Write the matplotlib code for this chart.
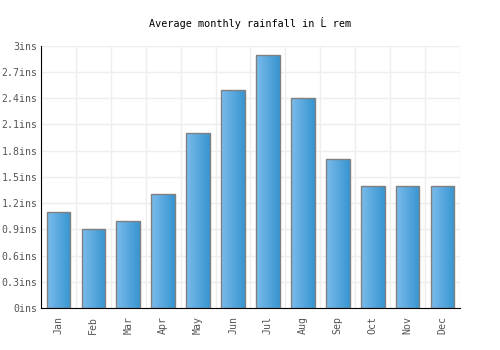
import numpy as np
import matplotlib.pyplot as plt
from matplotlib.colors import LinearSegmentedColormap

months = ['Jan', 'Feb', 'Mar', 'Apr', 'May', 'Jun', 'Jul', 'Aug', 'Sep', 'Oct', 'Nov', 'Dec']
rainfall = [1.1, 0.9, 1.0, 1.3, 2.0, 2.5, 2.9, 2.4, 1.7, 1.4, 1.4, 1.4]
yticks = [0, 0.3, 0.6, 0.9, 1.2, 1.5, 1.8, 2.1, 2.4, 2.7, 3.0]
ytick_labels = ['0ins', '0.3ins', '0.6ins', '0.9ins', '1.2ins', '1.5ins', '1.8ins',
                '2.1ins', '2.4ins', '2.7ins', '3ins']

plt.rcParams['font.family'] = ['DejaVu Sans Mono']

fig = plt.figure(figsize=(5, 3.5), dpi=100)
ax = fig.add_axes([0.082, 0.12, 0.838, 0.749])

x = np.arange(len(months))
bars = ax.bar(x, rainfall, width=0.68, facecolor='none', edgecolor='#808080',
              linewidth=1.0, zorder=3)

# gradient fill for each bar
cmap = LinearSegmentedColormap.from_list('blu', ['#7bbbec', '#3795d0'])
grad = np.linspace(0, 1, 64).reshape(1, -1)
for b in bars:
    im = ax.imshow(grad, cmap=cmap, aspect='auto', zorder=2,
                   extent=[b.get_x(), b.get_x() + b.get_width(), 0, b.get_height()])
    im.set_clip_path(b)

ax.set_xlim(-0.5, len(months) - 0.5)
ax.set_ylim(0, 3)
ax.set_yticks(yticks)
ax.set_yticklabels(ytick_labels)
ax.set_xticks(x)
ax.set_xticklabels(months, rotation=90)
ax.set_xticks(np.arange(-0.5, len(months), 1), minor=True)

ax.grid(True, axis='y', color='#eeeeee', linewidth=1, zorder=0)
ax.grid(True, axis='x', which='minor', color='#eeeeee', linewidth=1, zorder=0)
ax.tick_params(axis='both', which='both', length=0, labelsize=7.1, colors='#555555')
ax.tick_params(axis='y', pad=2.5)
ax.tick_params(axis='x', pad=6)

for s in ['top', 'right']:
    ax.spines[s].set_visible(False)
ax.spines['left'].set_color('black')
ax.spines['bottom'].set_color('black')

fig.text(0.5, 0.935, 'Average monthly rainfall in Ĺ rem', ha='center', va='center',
         fontsize=7.3, color='black')

plt.savefig('out.png', dpi=100)
